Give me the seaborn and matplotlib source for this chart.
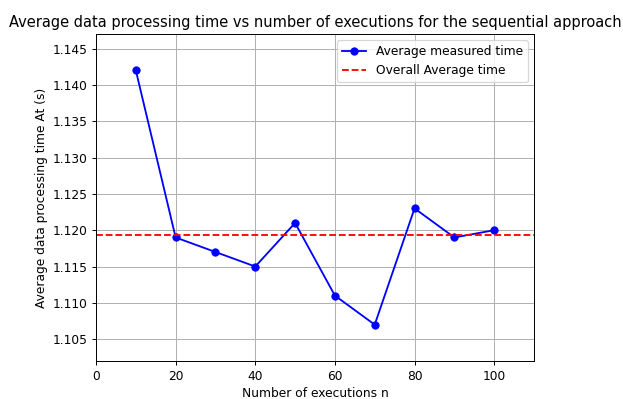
import matplotlib
matplotlib.use("Agg")
import matplotlib.pyplot as plt
import seaborn as sns
import numpy as np
import pandas as pd

executions = [10, 20, 30, 40, 50, 60, 70, 80, 90, 100]
avg_times = [1.142, 1.119, 1.117, 1.115, 1.121, 1.111, 1.107, 1.123, 1.119, 1.120]

overall = float(np.mean(avg_times))
df = pd.DataFrame({"n": executions, "t": avg_times})

DPI = 88
fig = plt.figure(figsize=(623 / DPI, 399 / DPI), dpi=DPI)
ax = fig.add_axes([96 / 623, 1 - 361 / 399, (534 - 96) / 623, (361 - 34) / 399])
sns.lineplot(data=df, x="n", y="t", marker="o", color="blue", markeredgecolor="blue",
             markersize=6, linewidth=1.5, label="Average measured time", ax=ax)
ax.axhline(overall, color="red", linestyle="--", linewidth=1.5, label="Overall Average time")
ax.set_xlim(0, 110)
ax.set_ylim(min(avg_times) - 0.005, max(avg_times) + 0.005)
ax.set_xlabel("Number of executions n")
ax.set_ylabel("Average data processing time At (s)")
ax.set_title("Average data processing time vs number of executions for the sequential approach")
ax.grid(True)
ax.legend(loc="upper right")
fig.savefig("out.png", dpi=DPI)
